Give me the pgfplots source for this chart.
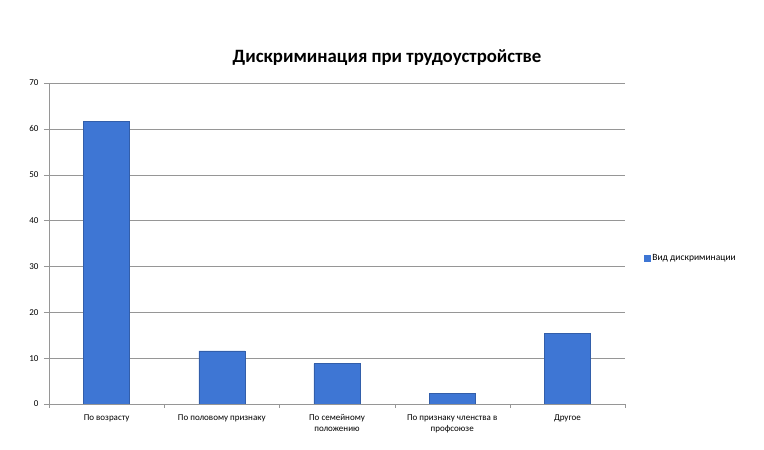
\documentclass[border=0pt]{standalone}
\usepackage{pgfplots}
\pgfplotsset{compat=1.18}
\usepackage{fontspec}
\setmainfont{Carlito}
\definecolor{barblue}{RGB}{62,118,212}
\definecolor{gridgray}{RGB}{150,150,150}
\begin{document}
\begin{tikzpicture}[x=1pt,y=1pt]
\useasboundingbox (0,0) rectangle (764,450);
\node[font=\fontsize{18.8}{22}\selectfont\bfseries] at (387,392) {Дискриминация при трудоустройстве};
\begin{axis}[
  at={(49pt,46pt)}, anchor=south west,
  scale only axis, width=576pt, height=321pt,
  xmin=-0.5, xmax=4.5, ymin=0, ymax=70,
  ytick={0,10,...,70},
  xtick={0,1,2,3,4},
  xticklabels={По возрасту,По половому признаку,По семейному\\положению,По признаку членства в\\профсоюзе,Другое},
  xticklabel style={align=center, font=\fontsize{9}{11}\selectfont, yshift=-2pt},
  yticklabel style={font=\fontsize{9}{11}\selectfont, xshift=-2pt},
  /pgf/number format/assume math mode=true,
  minor xtick={-0.5,0.5,...,4.5},
  major x tick style={draw=none},
  minor x tick style={draw=gridgray},
  minor tick length=4pt,
  major tick length=5pt,
  tick align=outside,
  ymajorgrids, grid style={gridgray},
  axis x line*=bottom, axis y line*=left,
  axis line style={gridgray},
  y tick style={gridgray},
  ybar, bar width=0.4,
  legend style={at={(1.028,0.455)}, anchor=west, draw=none, font=\fontsize{9.5}{11}\selectfont, legend cell align=left},
  legend image code/.code={\fill[barblue] (0cm,-0.1cm) rectangle (0.2cm,0.1cm);},
]
\addplot[fill=barblue, draw=barblue!80!black] coordinates {(0,61.7) (1,11.6) (2,8.8) (3,2.3) (4,15.4)};
\addlegendentry{Вид дискриминации}
\end{axis}
\end{tikzpicture}
\end{document}
